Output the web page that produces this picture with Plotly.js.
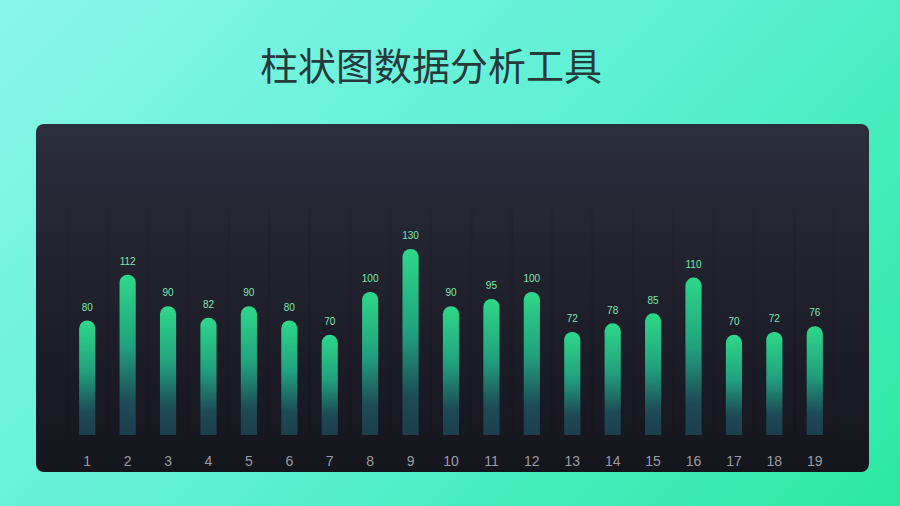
<!DOCTYPE html>
<html>
<head>
<meta charset="utf-8">
<script src="https://cdn.plot.ly/plotly-3.0.1.min.js"></script>
<style>
  html, body { margin: 0; padding: 0; }
  body {
    width: 900px; height: 506px; overflow: hidden; position: relative;
    background: linear-gradient(135deg, #8af6ec 0%, #5cf0d2 50%, #2be8a2 100%);
  }
  #panel {
    position: absolute; left: 36px; top: 124px; width: 833px; height: 348px;
    border-radius: 8px;
    background: linear-gradient(180deg, #2b2e3b 0%, #1e1f2a 55%, #15151d 100%);
  }
  #chart { position: absolute; left: 0; top: 0; width: 900px; height: 506px; }
</style>
</head>
<body>
<div id="panel"></div>
<div id="chart"></div>
<script>
// data
var categories = ['1','2','3','4','5','6','7','8','9','10','11','12','13','14','15','16','17','18','19'];
var values = [80, 112, 90, 82, 90, 80, 70, 100, 130, 90, 95, 100, 72, 78, 85, 110, 70, 72, 76];
var slotMax = [158,158,158,158,158,158,158,158,158,158,158,158,158,158,158,158,158,158,158];

// faint slot columns, kept on their own axes so they don't steal the rounded tops
var bgTrace = {
  x: categories,
  y: slotMax,
  type: 'bar',
  width: 0.96,
  hoverinfo: 'skip',
  marker: {
    color: 'rgba(255,255,255,0.004)',
    cornerradius: 0,
    line: { color: 'rgba(0,0,0,0.06)', width: 1 }
  }
};

var mainTrace = {
  x: categories,
  y: values,
  xaxis: 'x2',
  yaxis: 'y2',
  type: 'bar',
  width: 0.4,
  marker: { color: '#2bd58a', cornerradius: '50%' }
};

var labelTrace = {
  x: categories,
  y: values,
  xaxis: 'x2',
  yaxis: 'y2',
  type: 'scatter',
  mode: 'markers+text',
  text: values.map(String),
  textposition: 'top center',
  cliponaxis: false,
  marker: { size: 10, color: 'rgba(0,0,0,0)' },
  textfont: { family: 'Liberation Sans, Arial, sans-serif', size: 10, color: '#78e8b0' }
};

var layout = {
  width: 900,
  height: 506,
  margin: { l: 67, r: 65, t: 206, b: 71 },
  paper_bgcolor: 'rgba(0,0,0,0)',
  plot_bgcolor: 'rgba(0,0,0,0)',
  showlegend: false,
  barmode: 'overlay',
  title: {
    text: '柱状图数据分析工具',
    x: 0.479, xanchor: 'center',
    y: 0.868, yanchor: 'middle',
    font: { family: 'Noto Sans CJK SC, sans-serif', size: 38, color: '#263a3b' }
  },
  xaxis: {
    type: 'category',
    range: [-0.5, 18.5],
    showgrid: false, zeroline: false, showline: false,
    ticks: '',
    ticklabelstandoff: 16,
    tickfont: { family: 'Liberation Sans, Arial, sans-serif', size: 14, color: '#9b9ca3' }
  },
  yaxis: {
    range: [0, 160],
    showgrid: false, zeroline: false, showline: false,
    showticklabels: false
  },
  xaxis2: {
    type: 'category',
    overlaying: 'x',
    range: [-0.5, 18.5],
    visible: false
  },
  yaxis2: {
    overlaying: 'y',
    range: [0, 160],
    visible: false
  }
};

var div = document.getElementById('chart');
Plotly.newPlot(div, [bgTrace, mainTrace, labelTrace], layout, { staticPlot: true }).then(function() {
  // per-bar vertical gradient, green on top fading to dark teal
  var svgNS = 'http://www.w3.org/2000/svg';
  var defs = div.querySelector('.main-svg defs');
  var grad = document.createElementNS(svgNS, 'linearGradient');
  grad.setAttribute('id', 'barGrad');
  grad.setAttribute('x1', '0'); grad.setAttribute('y1', '0');
  grad.setAttribute('x2', '0'); grad.setAttribute('y2', '1');
  [['0', '#2ed889'], ['0.45', '#21a07e'], ['0.8', '#1d4a55'], ['1', '#1c3f4d']].forEach(function(s) {
    var stop = document.createElementNS(svgNS, 'stop');
    stop.setAttribute('offset', s[0]);
    stop.setAttribute('stop-color', s[1]);
    grad.appendChild(stop);
  });
  defs.appendChild(grad);

  var bars = div.querySelectorAll('.x2y2 .barlayer .trace .point path');
  bars.forEach(function(p) { p.style.fill = 'url(#barGrad)'; });
});
</script>
</body>
</html>
